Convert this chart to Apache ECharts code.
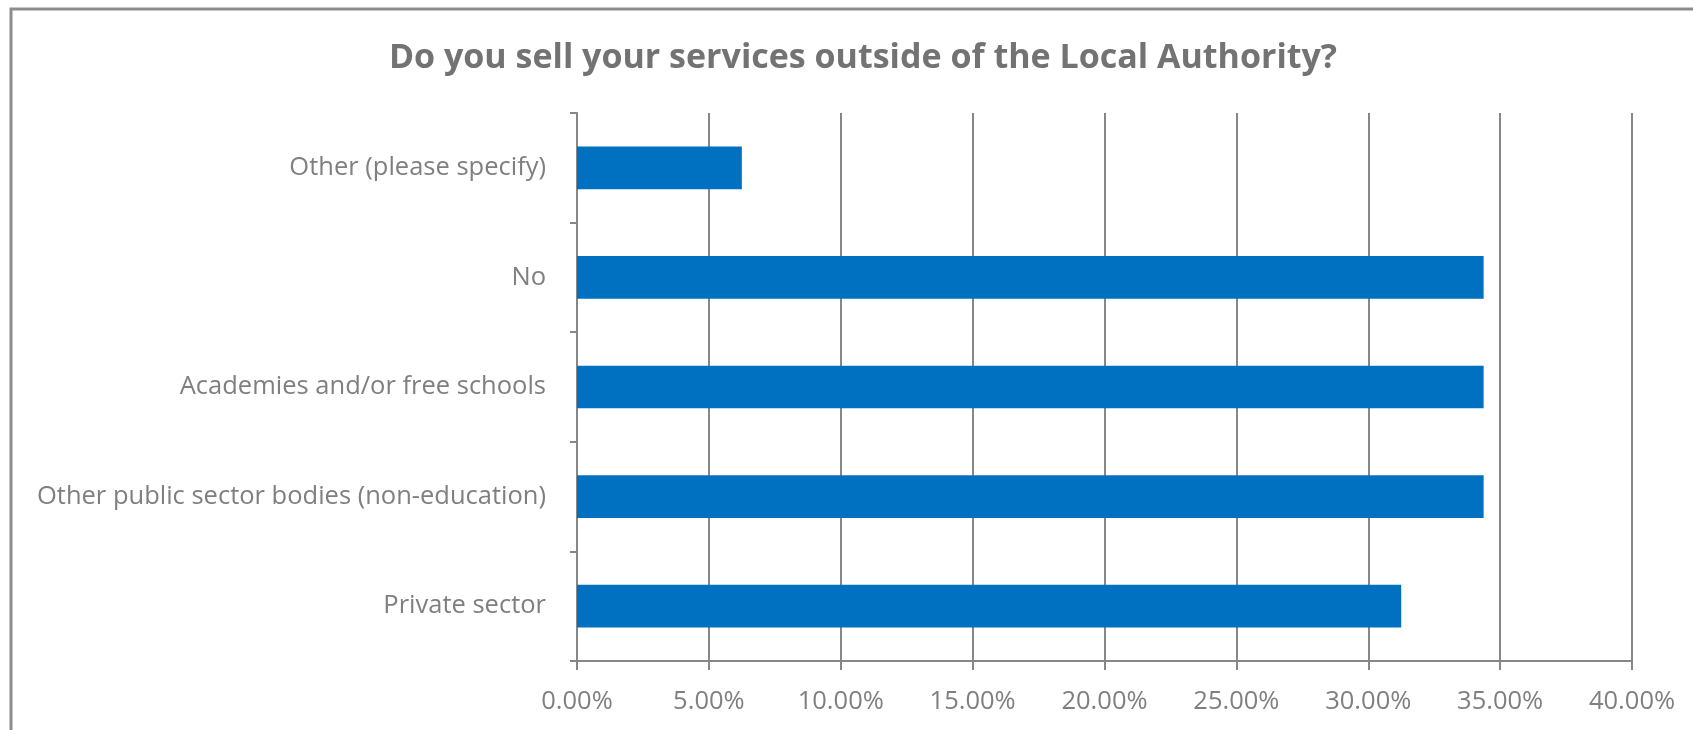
<!DOCTYPE html>
<html>
<head>
<meta charset="utf-8">
<script src="https://cdn.jsdelivr.net/npm/echarts@6/dist/echarts.min.js"></script>
<style>
html,body{margin:0;padding:0;background:#fff;}
#chart{width:1693px;height:730px;}
</style>
</head>
<body>
<div id="chart"></div>
<script>
const titleText = 'Do you sell your services outside of the Local Authority?';
const categories = ['Private sector', 'Other public sector bodies (non-education)', 'Academies and/or free schools', 'No', 'Other (please specify)'];
const values = [0.3125, 0.34375, 0.34375, 0.34375, 0.0625];
const tickLabels = ['0.00%', '5.00%', '10.00%', '15.00%', '20.00%', '25.00%', '30.00%', '35.00%', '40.00%'];

const FONT = 'Open Sans';
const TITLE_GREY = '#737373';
const GREY = '#7f7f7f';
const LINE = '#878787';

const chart = echarts.init(document.getElementById('chart'), null, {renderer: 'canvas'});
chart.setOption({
  animation: false,
  backgroundColor: '#ffffff',
  title: {
    text: titleText,
    left: 858,
    textAlign: 'center',
    top: 36,
    textStyle: {fontFamily: FONT, fontSize: 34, fontWeight: 'bold', color: TITLE_GREY}
  },
  graphic: [{
    type: 'rect',
    shape: {x: 11, y: 9, width: 1800, height: 900},
    style: {fill: 'none', stroke: '#8c8c8c', lineWidth: 3},
    silent: true
  }],
  grid: {left: 577, right: 61, top: 113, bottom: 69, containLabel: false},
  xAxis: {
    type: 'value',
    min: 0, max: 0.4, interval: 0.05,
    axisLine: {show: true, lineStyle: {color: LINE, width: 2}},
    axisTick: {show: true, length: 9, lineStyle: {color: LINE, width: 2}},
    splitLine: {show: true, lineStyle: {color: LINE, width: 2}},
    axisLabel: {
      margin: 28,
      fontFamily: FONT, fontSize: 25.5, color: GREY,
      formatter: function (v) { return tickLabels[Math.round(v / 0.05)]; }
    }
  },
  yAxis: {
    type: 'category',
    data: categories,
    axisLine: {show: true, lineStyle: {color: LINE, width: 2}},
    axisTick: {show: true, length: 7, lineStyle: {color: LINE, width: 2}},
    axisLabel: {margin: 31, fontFamily: FONT, fontSize: 25.5, color: GREY}
  },
  series: [{
    type: 'bar',
    data: values,
    barWidth: '39%',
    itemStyle: {color: '#0070C0'}
  }]
});
</script>
</body>
</html>
